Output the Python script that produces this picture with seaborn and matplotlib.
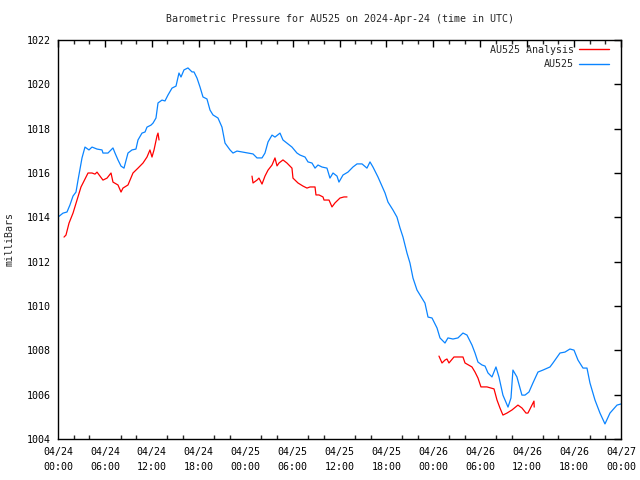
import numpy as np
import pandas as pd
import matplotlib
matplotlib.use("Agg")
import matplotlib.pyplot as plt
import seaborn as sns
from matplotlib.ticker import MultipleLocator

# hours since 2024-04-24 00:00 UTC, pressure in mb
obs_hours = [0.0, 0.64, 1.15, 1.53, 1.92, 2.30, 2.56, 3.07, 3.45, 3.96, 4.35, 4.99, 5.63, 5.75,
             6.39, 7.03, 7.29, 7.67, 8.06, 8.44, 8.95, 9.46, 9.97, 10.23, 10.74, 11.13, 11.38,
             11.89, 12.15, 12.53, 12.79, 13.30, 13.68, 14.07, 14.58, 15.09, 15.47, 15.73, 16.11,
             16.62, 17.14, 17.39, 17.78, 18.16, 18.54, 19.05, 19.44, 19.82, 20.46, 20.97, 21.36,
             22.00, 22.38, 22.89, 23.53, 24.30, 24.94, 25.45, 26.09, 26.47, 26.86, 27.37, 27.75,
             28.39, 28.77, 29.28, 29.92, 30.56, 30.95, 31.59, 31.97, 32.48, 32.87, 33.25, 33.76,
             34.40, 34.78, 35.17, 35.68, 35.93, 36.45, 37.08, 37.72, 38.24, 38.88, 39.51, 39.90,
             40.28, 40.92, 41.82, 42.20, 42.84, 43.35, 43.74, 44.12, 44.63, 45.01, 45.40, 45.91,
             46.29, 46.93, 47.32, 47.83, 48.47, 48.85, 49.49, 49.87, 50.51, 51.15, 51.79, 52.30,
             52.94, 53.33, 53.71, 54.22, 54.61, 54.99, 55.50, 56.01, 56.39, 56.90, 57.55, 57.93,
             58.18, 58.69, 59.33, 59.72, 60.23, 60.74, 61.38, 62.02, 62.92, 63.30, 64.20, 64.83,
             65.47, 65.99, 66.50, 67.14, 67.65, 68.03, 68.67, 69.31, 69.95, 70.59, 71.49, 72.00]
obs_press = [1014.01, 1014.19, 1014.24, 1014.56, 1014.96, 1015.14, 1015.68, 1016.68, 1017.17,
             1017.04, 1017.17, 1017.08, 1017.04, 1016.90, 1016.90, 1017.13, 1016.90, 1016.59,
             1016.31, 1016.22, 1016.90, 1017.04, 1017.08, 1017.49, 1017.80, 1017.85, 1018.07,
             1018.16, 1018.25, 1018.48, 1019.16, 1019.29, 1019.25, 1019.52, 1019.83, 1019.92,
             1020.51, 1020.33, 1020.65, 1020.74, 1020.56, 1020.56, 1020.28, 1019.88, 1019.43,
             1019.34, 1018.84, 1018.62, 1018.48, 1018.07, 1017.35, 1017.04, 1016.90, 1016.99,
             1016.95, 1016.90, 1016.86, 1016.68, 1016.68, 1016.90, 1017.40, 1017.71, 1017.62,
             1017.80, 1017.49, 1017.35, 1017.17, 1016.90, 1016.81, 1016.72, 1016.50, 1016.45,
             1016.22, 1016.36, 1016.27, 1016.22, 1015.77, 1016.00, 1015.86, 1015.59, 1015.91,
             1016.04, 1016.27, 1016.41, 1016.41, 1016.22, 1016.50, 1016.27, 1015.82, 1015.10,
             1014.69, 1014.33, 1014.01, 1013.52, 1013.11, 1012.39, 1011.94, 1011.26, 1010.72,
             1010.50, 1010.13, 1009.50, 1009.46, 1009.01, 1008.56, 1008.33, 1008.56, 1008.51,
             1008.56, 1008.78, 1008.69, 1008.24, 1007.88, 1007.47, 1007.34, 1007.29, 1006.98,
             1006.80, 1007.25, 1006.80, 1005.98, 1005.44, 1005.85, 1007.11, 1006.80, 1005.98,
             1005.98, 1006.12, 1006.53, 1007.02, 1007.11, 1007.25, 1007.43, 1007.88, 1007.92,
             1008.06, 1008.01, 1007.56, 1007.20, 1007.20, 1006.53, 1005.76, 1005.17, 1004.68,
             1005.17, 1005.53, 1005.58]

# analysis runs, three separate pieces
ana_hours = [0.77, 1.02, 1.41, 1.92, 2.43, 2.94, 3.20, 3.84, 4.35, 4.73, 4.99, 5.75, 6.27, 6.78,
             7.03, 7.67, 8.06, 8.31, 8.95, 9.59, 10.23, 10.87, 11.38, 11.76, 12.02, 12.28, 12.66,
             12.79, 12.92,
             24.81, 24.94, 25.45, 25.70, 26.09, 26.47, 26.86, 27.37, 27.75, 28.01, 28.26, 28.77,
             29.28, 29.92, 30.05, 30.69, 31.33, 31.84, 32.23, 32.87, 32.99, 33.38, 33.89, 34.02,
             34.66, 35.04, 35.42, 36.06, 36.57, 36.96,
             48.72, 49.11, 49.49, 49.74, 50.00, 50.64, 51.79, 52.05, 52.94, 53.33, 53.71, 54.09,
             54.86, 55.76, 56.14, 56.52, 56.90, 57.42, 58.06, 58.82, 59.33, 59.85, 60.10, 60.87,
             60.90]
ana_press = [1013.11, 1013.20, 1013.74, 1014.19, 1014.78, 1015.37, 1015.55, 1016.00, 1016.00,
             1015.95, 1016.04, 1015.68, 1015.77, 1016.00, 1015.59, 1015.46, 1015.14, 1015.32,
             1015.46, 1016.00, 1016.22, 1016.45, 1016.72, 1017.04, 1016.72, 1017.04, 1017.67,
             1017.80, 1017.49,
             1015.86, 1015.55, 1015.68, 1015.77, 1015.50, 1015.86, 1016.13, 1016.36, 1016.68,
             1016.32, 1016.45, 1016.59, 1016.45, 1016.22, 1015.77, 1015.55, 1015.41, 1015.32,
             1015.37, 1015.37, 1015.01, 1015.01, 1014.92, 1014.78, 1014.78, 1014.47, 1014.65,
             1014.87, 1014.92, 1014.92,
             1007.74, 1007.43, 1007.56, 1007.61, 1007.43, 1007.70, 1007.70, 1007.43, 1007.25,
             1007.02, 1006.75, 1006.35, 1006.35, 1006.26, 1005.76, 1005.40, 1005.08, 1005.17,
             1005.31, 1005.53, 1005.40, 1005.17, 1005.17, 1005.71, 1005.44]
ana_run = [1] * 29 + [2] * 30 + [3] * 25

tick_labels = ["04/24\n00:00", "04/24\n06:00", "04/24\n12:00", "04/24\n18:00",
               "04/25\n00:00", "04/25\n06:00", "04/25\n12:00", "04/25\n18:00",
               "04/26\n00:00", "04/26\n06:00", "04/26\n12:00", "04/26\n18:00",
               "04/27\n00:00"]

obs = pd.DataFrame({"hour": obs_hours, "mb": obs_press})
ana = pd.DataFrame({"hour": ana_hours, "mb": ana_press, "run": ana_run})

sns.set_style("white")
plt.rcParams["font.family"] = ["DejaVu Sans Mono"]
fs = 7.2

fig = plt.figure(figsize=(6.4, 4.8), dpi=100)
ax = fig.add_axes([58 / 640, 1 - 439 / 480, (621 - 58) / 640, (439 - 40) / 480])

sns.lineplot(data=ana, x="hour", y="mb", units="run", estimator=None, sort=False,
             color="#ff0000", lw=0.9, ax=ax)
sns.lineplot(data=obs, x="hour", y="mb", color="#0a84ff", lw=0.9, ax=ax)

ax.set_xlim(0, 72)
ax.set_ylim(1004, 1022)
ax.set_xticks(np.arange(0, 73, 6))
ax.set_xticklabels(tick_labels, linespacing=1.55)
ax.xaxis.set_minor_locator(MultipleLocator(2))
ax.yaxis.set_major_locator(MultipleLocator(2))
ax.tick_params(which="major", direction="in", length=5, width=1, top=True, right=True,
               colors="black", labelsize=fs)
ax.tick_params(axis="x", which="major", pad=6)
ax.tick_params(axis="y", which="major", pad=5)
ax.tick_params(which="minor", axis="x", direction="in", length=3, width=1, top=True, bottom=True)
for s in ax.spines.values():
    s.set_color("black")
    s.set_linewidth(1)

ax.set_xlabel("")
ax.set_ylabel("milliBars", fontsize=fs)
ax.yaxis.set_label_coords(-0.077, 0.5)
ax.set_title("Barometric Pressure for AU525 on 2024-Apr-24 (time in UTC)",
             fontsize=fs, pad=13)

handles = [plt.Line2D([], [], color="#ff0000", lw=1.0),
           plt.Line2D([], [], color="#0a84ff", lw=1.0)]
ax.legend(handles, ["AU525 Analysis", "AU525"], loc="upper right", frameon=False,
          markerfirst=False, fontsize=fs, handlelength=3.0, handletextpad=0.55,
          labelspacing=0.45, borderaxespad=0.1, bbox_to_anchor=(0.988, 1.0))

fig.savefig("out.png", dpi=100)
